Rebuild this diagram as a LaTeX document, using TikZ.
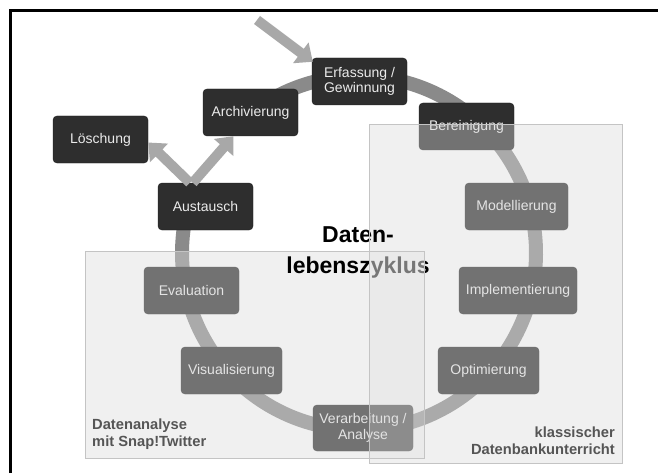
\documentclass[tikz,border=0pt]{standalone}
\usepackage{fontspec}
\setmainfont{Liberation Sans}
\usetikzlibrary{arrows.meta}
\definecolor{nodedark}{HTML}{2E2E2E}
\definecolor{nodeline}{HTML}{1E1E1E}
\definecolor{ringgray}{HTML}{8A8A8A}
\definecolor{arrowgray}{HTML}{A8A8A8}
\definecolor{overlayfill}{HTML}{DADADA}
\definecolor{overlayline}{HTML}{C4C4C4}
\definecolor{labelgray}{HTML}{555555}
\begin{document}
\begin{tikzpicture}[x=1pt,y=-1pt,
  phase/.style={draw=nodeline, fill=nodedark, rounded corners=4pt, minimum height=47pt,
    minimum width=95pt, text=white!92!black, font=\fontsize{14}{15.5}\selectfont,
    align=center, inner sep=2pt},
  ring/.style={draw=ringgray, line width=14pt},
  bigarrow/.style={draw=arrowgray, line width=10pt, -{Triangle[width=25pt,length=15pt]}},
  areafill/.style={fill=overlayfill, fill opacity=0.4},
  areaboth/.style={fill=overlayfill, fill opacity=0.55},
  areaborder/.style={draw=overlayline, line width=1pt},
  arealabel/.style={text=labelgray, font=\bfseries\fontsize{14.7}{17}\selectfont, inner sep=0pt},
  titletext/.style={font=\bfseries\fontsize{23}{31}\selectfont, align=center, inner sep=0pt}
]
\useasboundingbox (0,0) rectangle (660,473);
\fill[white] (0,0) rectangle (660,473);
% frame (top and left edges)
\draw[line width=3pt] (10.5,473) -- (10.5,10.5) -- (658,10.5);

% ring
\coordinate (ringc) at (359,253);
\draw[ring] (ringc) ++(-127.5:177) arc[start angle=-127.5, end angle=197, radius=177];

% nodes
\node[phase] (erf) at (359.5,81.5) {Erfassung /\\Gewinnung};
\node[phase] (arch) at (250.5,112.5) {Archivierung};
\node[phase] (loe) at (100.5,139.5) {Löschung};
\node[phase] (ber) at (466.5,126.5) {Bereinigung};
\node[phase] (aus) at (205.5,206.5) {Austausch};
\node[phase, minimum width=103pt] (mod) at (516.5,206.5) {Modellierung};
\node[phase] (eva) at (191.5,290.5) {Evaluation};
\node[phase, minimum width=118pt] (imp) at (518,290.5) {Implementierung};
\node[phase, minimum width=101pt] (vis) at (231.5,370.5) {Visualisierung};
\node[phase, minimum width=101pt] (opt) at (488.5,370.5) {Optimierung};
\node[phase, minimum width=100pt, minimum height=46pt] (ver) at (363,428) {Verarbeitung /\\Analyse};

% arrows
\coordinate (src) at (257,20);
\draw[bigarrow] (src) -- ([xshift=1pt,yshift=-4pt]erf.north west);
\draw[bigarrow] ([xshift=32pt]aus.north west) -- ([yshift=-3pt]loe.east);
\draw[bigarrow] ([xshift=35pt]aus.north west) -- ([xshift=-17pt]arch.south);

% overlay areas (non-overlapping parts)
\fill[areafill] (424,125) rectangle (622,463) (369,125) rectangle (424,251) (369,458) rectangle (424,463);
\fill[areafill] (85,251) rectangle (369,458);

% title
\node[titletext] (title) at (358,252) {Daten-\\lebenszyklus};

% overlapping part of the two areas
\fill[areaboth] (369,251) rectangle (424,458);

% area borders
\draw[areaborder] (369,125) rectangle (622,463);
\draw[areaborder] (85,251) rectangle (424,458);

% area labels
\node[arealabel, align=left, anchor=west] (lbla) at (92,434.5) {Datenanalyse\\mit Snap!Twitter};
\node[arealabel, align=right, anchor=east] (lblb) at (615,440.5) {klassischer\\Datenbankunterricht};
\end{tikzpicture}
\end{document}
